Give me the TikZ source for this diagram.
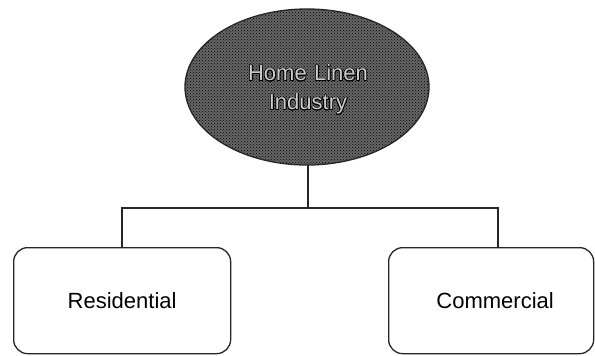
\documentclass[tikz,border=0pt]{standalone}
\usepackage{fontspec}
\setmainfont{Liberation Sans}
\usetikzlibrary{patterns}
\usepackage{contour}
\contourlength{0.7pt}
\contournumber{16}
\begin{document}
\begin{tikzpicture}[x=1pt,y=-1pt,
  conn/.style={line width=1.3pt,black!85},
  box/.style={draw=black!85,line width=1.3pt,rounded corners=14pt,fill=white},
  lbl/.style={font=\fontsize{22}{26}\selectfont,text=black}]
\useasboundingbox (0,0) rectangle (595,356);
\fill[white] (0,0) rectangle (595,356);
% ellipse
\fill[black!60] (307,87) ellipse [x radius=122, y radius=78];
\fill[pattern=crosshatch dots, pattern color=black] (307,87) ellipse [x radius=122, y radius=78];
\draw[line width=1.3pt,black!85] (307,87) ellipse [x radius=122, y radius=78];
\node[lbl,align=center,text width=160pt,inner sep=0pt,font=\fontsize{22}{29}\selectfont] (top) at (308,90)
  {\contour{black}{\textcolor{white!80!black}{Home Linen}}\\\contour{black}{\textcolor{white!80!black}{Industry}}};
\coordinate (tb) at (308,165);
% boxes
\node[box,minimum width=217pt,minimum height=106pt,anchor=north west] (res) at (13,247) {};
\node[lbl] at (res.center) {Residential};
\node[box,minimum width=205pt,minimum height=106pt,anchor=north west] (com) at (388,247) {};
\node[lbl] at ([xshift=4pt]com.center) {Commercial};
\coordinate (j) at (308,208);
\coordinate (rl) at (122,247);
\coordinate (cl) at (498,247);
\draw[conn] (tb) -- (j);
\draw[conn] (rl) |- (j) -| (cl);
\end{tikzpicture}
\end{document}
